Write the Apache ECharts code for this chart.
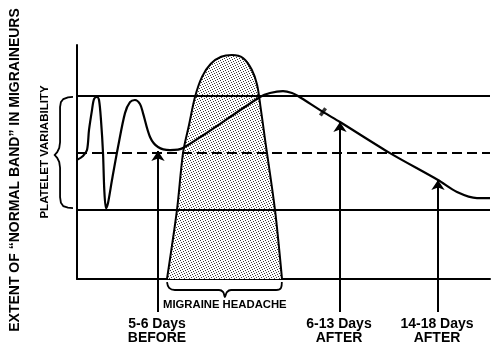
<!DOCTYPE html>
<html>
<head>
<meta charset="utf-8">
<script src="https://cdn.jsdelivr.net/npm/echarts@6/dist/echarts.min.js"></script>
<style>
  html, body { margin: 0; padding: 0; background: #fff; }
  #chart { width: 500px; height: 354px; }
</style>
</head>
<body>
<div id="chart"></div>
<script>
// schematic units: x = time (0..100 across the frame), y = extent (0..100)
const curveX = [0, 1.45, 2.42, 2.91, 3.63, 4.12, 4.84, 5.33, 5.81, 6.30, 6.61, 7.02, 7.51, 8.47, 9.93, 11.62, 12.83, 14.04, 15.25, 15.98, 17.68, 19.61, 22.52, 25.67, 44.31, 46.73, 49.88, 52.06, 53.51, 59.56, 63.68, 75.79, 87.41, 92.01, 96.85, 100]
const curveY = [50.9, 52.6, 55.1, 63.7, 72.2, 76.9, 77.8, 76.5, 67.9, 53.8, 38.0, 30.3, 32.5, 42.3, 56.4, 70.9, 75.6, 76.5, 74.8, 70.9, 60.7, 56.4, 55.1, 56.0, 77.8, 79.5, 80.3, 79.5, 78.2, 71.4, 67.1, 53.8, 42.3, 37.2, 34.6, 34.6]

const headacheX = [21.79, 24.21, 25.67, 27.12, 28.57, 30.3, 32.4, 34.9, 37.53, 40.2, 42.3, 43.6, 44.4, 45.5, 47.94, 49.64]
const headacheY = [0, 29.5, 53.8, 65.8, 77.8, 86.5, 92.0, 95.0, 95.7, 94.4, 89.5, 83.0, 74.0, 60.0, 29.5, 0]

// band limits: upper, mean (dashed), lower
const bandLevels = [78.2, 53.8, 29.5]
const bandDashed = [false, true, false]

// arrows: position, tip height
const arrowX = [19.61, 63.68, 87.41]
const arrowTip = [54.7, 67.1, 42.3]
const arrowBase = -14.1
const arrowLabels = ['5-6 Days\nBEFORE', '6-13 Days\nAFTER', '14-18 Days\nAFTER']

const braceLeftX = [-0.97, -2.2, -3.3, -3.9, -4.1, -4.1, -4.3, -4.8, -5.4, -4.8, -4.3, -4.1, -4.1, -3.9, -3.3, -2.2, -0.97]
const braceLeftY = [77.8, 77.6, 76.9, 75.6, 73.5, 58.5, 56.0, 54.2, 53.0, 51.8, 50.0, 47.5, 35.0, 32.6, 31.1, 30.5, 30.3]
const braceBottomX = [21.8, 22.3, 23.7, 34.4, 35.4, 35.8, 36.3, 37.3, 48.2, 49.4, 49.6]
const braceBottomY = [-1.3, -3.8, -4.7, -4.7, -5.6, -7.7, -5.6, -4.7, -4.7, -3.8, -1.3]

const pair = (xs, ys) => xs.map((x, i) => [x, ys[i]])

// stipple texture for the headache area
const makeStipple = () => {
  const c = document.createElement('canvas')
  c.width = 5
  c.height = 5
  const ctx = c.getContext('2d')
  ctx.fillStyle = '#ffffff'
  ctx.fillRect(0, 0, 5, 5)
  ctx.fillStyle = '#3a3a3a'
  ;[[0, 0], [3, 1], [1, 2], [4, 3], [2, 4]].forEach(p => ctx.fillRect(p[0], p[1], 1, 1))
  return c
}

const chart = echarts.init(document.getElementById('chart'))

const series = []

series.push({
  type: 'line',
  data: pair(headacheX, headacheY),
  smooth: 0.3,
  symbol: 'none',
  z: 1,
  lineStyle: { color: '#000', width: 2 },
  areaStyle: { color: { image: makeStipple(), repeat: 'repeat' }, opacity: 1 }
})

bandLevels.forEach((lvl, i) => {
  series.push({
    type: 'line',
    data: [[0, lvl], [100, lvl]],
    symbol: 'none',
    z: 3,
    lineStyle: { color: '#000', width: 2, type: bandDashed[i] ? [10, 5] : 'solid' }
  })
})

series.push({
  type: 'line',
  data: pair(curveX, curveY),
  smooth: 0.3,
  symbol: 'none',
  z: 4,
  lineStyle: { color: '#000', width: 2.2 }
})

series.push({
  type: 'lines',
  coordinateSystem: 'cartesian2d',
  clip: false,
  z: 5,
  symbol: ['none', 'arrow'],
  symbolSize: [7, 10],
  lineStyle: { color: '#000', width: 2, opacity: 1 },
  data: arrowX.map((x, i) => ({ coords: [[x, arrowBase], [x, arrowTip[i]]] }))
})

// curly braces
series.push({
  type: 'lines',
  coordinateSystem: 'cartesian2d',
  polyline: true,
  clip: false,
  lineStyle: { color: '#000', width: 1.8, opacity: 1 },
  data: [{ coords: pair(braceLeftX, braceLeftY) }]
})

series.push({
  type: 'line',
  data: pair(braceBottomX, braceBottomY),
  smooth: 0.4,
  symbol: 'none',
  clip: false,
  lineStyle: { color: '#000', width: 1.8 }
})

// small tick across the falling curve
series.push({
  type: 'scatter',
  data: [[59.56, 71.4]],
  symbol: 'rect',
  symbolSize: [3.5, 9],
  symbolRotate: -35,
  itemStyle: { color: '#000' },
  z: 6
})

const grid = { left: 77, right: 10, top: 45, bottom: 75 }
const plotW = 500 - grid.left - grid.right
const xPx = x => grid.left + x / 100 * plotW

const font = 'Liberation Sans, Arial, sans-serif'

const graphics = [
  {
    type: 'text', x: 15, y: 170, rotation: Math.PI / 2,
    style: { text: 'EXTENT OF \u201CNORMAL BAND\u201D IN MIGRAINEURS', font: 'bold 14px ' + font, fill: '#000', align: 'center', verticalAlign: 'middle' }
  },
  {
    type: 'text', x: 45, y: 152, rotation: Math.PI / 2,
    style: { text: 'PLATELET VARIABILITY', font: 'bold 11.5px ' + font, fill: '#000', align: 'center', verticalAlign: 'middle' }
  },
  {
    type: 'text', x: 163, y: 305,
    style: { text: 'MIGRAINE HEADACHE', font: 'bold 11.3px ' + font, fill: '#000', align: 'left', verticalAlign: 'middle' }
  }
]
arrowLabels.forEach((t, i) => {
  graphics.push({
    type: 'text', x: xPx(arrowX[i]) - 1, y: 331,
    style: { text: t, font: 'bold 14px ' + font, fill: '#000', align: 'center', verticalAlign: 'middle', lineHeight: 14 }
  })
})

const option = {
  animation: false,
  backgroundColor: '#fff',
  grid: grid,
  xAxis: {
    type: 'value', min: 0, max: 100,
    axisLine: { lineStyle: { color: '#000', width: 2 } },
    axisTick: { show: false }, axisLabel: { show: false }, splitLine: { show: false }
  },
  yAxis: {
    type: 'value', min: 0, max: 100,
    axisLine: { show: true, lineStyle: { color: '#000', width: 2 } },
    axisTick: { show: false }, axisLabel: { show: false }, splitLine: { show: false }
  },
  graphic: graphics,
  series: series
}

chart.setOption(option)
</script>
</body>
</html>
